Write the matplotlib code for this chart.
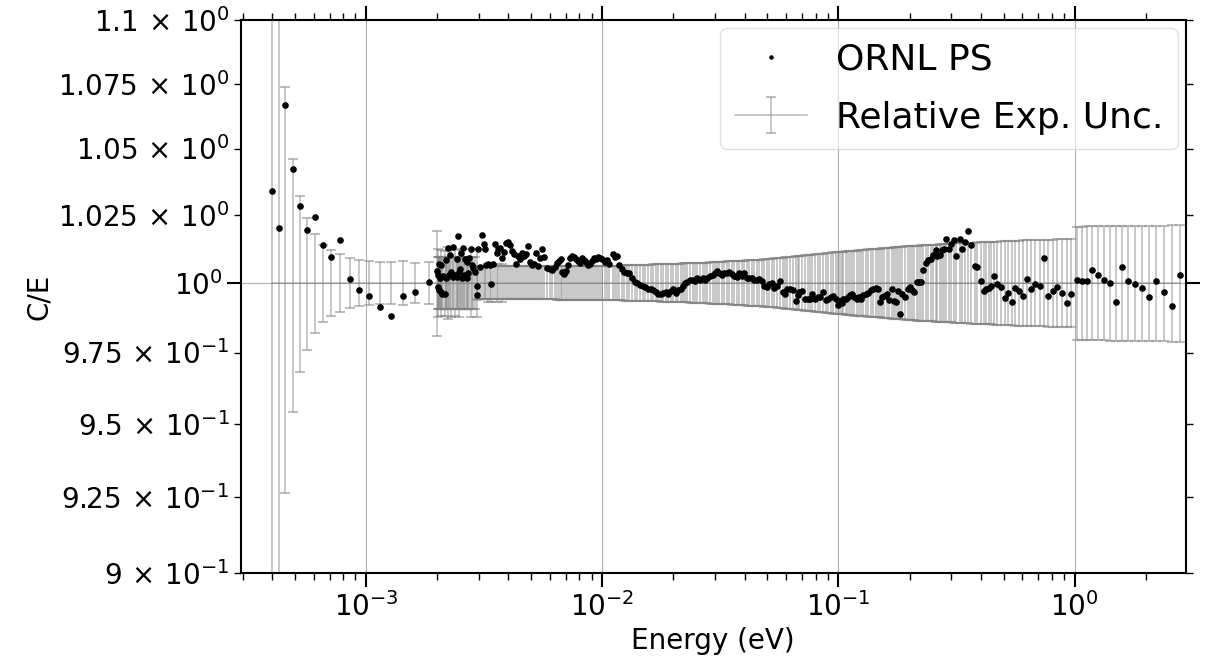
import numpy as np
import matplotlib
matplotlib.use('Agg')
import matplotlib.pyplot as plt
from matplotlib.ticker import FuncFormatter

# sparse low-energy points (eV, C/E, relative exp. uncertainty)
energy_low = [4.01e-4, 4.27e-4, 4.54e-4, 4.88e-4, 5.24e-4, 5.63e-4, 6.08e-4, 6.58e-4, 7.13e-4,
              7.76e-4, 8.50e-4, 9.34e-4, 1.03e-3, 1.143e-3, 1.272e-3, 1.43e-3, 1.613e-3, 1.842e-3]
ce_low = [1.0340, 1.0203, 1.0668, 1.0423, 1.0284, 1.0192, 1.0243, 1.0139, 1.0095,
          1.0156, 1.0013, 0.9973, 0.9954, 0.9913, 0.9881, 0.9954, 0.9968, 1.0002]
unc_low = [0.150, 0.120, 0.0736, 0.046, 0.032, 0.024, 0.018, 0.014, 0.0121,
           0.0104, 0.0092, 0.0083, 0.0081, 0.0076, 0.0075, 0.0080, 0.0073, 0.0076]

# 2 - 3 meV, overlapping sets
energy_a = [2.00e-3, 2.012e-3, 2.023e-3, 2.027e-3, 2.037e-3, 2.057e-3, 2.067e-3, 2.077e-3, 2.103e-3,
            2.124e-3, 2.160e-3, 2.170e-3, 2.181e-3, 2.202e-3, 2.230e-3, 2.245e-3, 2.267e-3, 2.289e-3,
            2.334e-3, 2.341e-3, 2.380e-3, 2.420e-3, 2.427e-3, 2.458e-3, 2.470e-3, 2.500e-3, 2.524e-3,
            2.541e-3, 2.581e-3, 2.606e-3, 2.624e-3, 2.668e-3, 2.676e-3, 2.710e-3, 2.729e-3, 2.769e-3,
            2.801e-3, 2.845e-3, 2.893e-3, 2.941e-3, 2.947e-3]
ce_a = [1.0042, 1.0030, 0.9985, 1.0070, 0.9973, 1.0016, 0.9965, 1.0064, 0.9961,
        1.0025, 0.9958, 1.0082, 1.0016, 1.0022, 1.0127, 1.0028, 1.0100, 1.0038,
        1.0022, 1.0131, 1.0030, 1.0088, 1.0021, 1.0173, 1.0038, 1.0052, 1.0110,
        1.0016, 1.0127, 1.0030, 1.0088, 1.0018, 1.0076, 1.0034, 1.0091, 1.0125,
        1.0064, 1.0054, 1.0038, 0.9989, 0.9955]
unc_a = [0.0190, 0.0095, 0.0125, 0.0095, 0.0095, 0.0095, 0.0120, 0.0095, 0.0095,
         0.0095, 0.0118, 0.0095, 0.0095, 0.0095, 0.0130, 0.0095, 0.0095, 0.0122,
         0.0095, 0.0095, 0.0120, 0.0095, 0.0095, 0.0095, 0.0125, 0.0095, 0.0095,
         0.0095, 0.0095, 0.0095, 0.0095, 0.0095, 0.0095, 0.0095, 0.0095, 0.0125,
         0.0095, 0.0095, 0.0095, 0.0125, 0.0062]

# 3 - 10 meV
energy_b = [2.988e-3, 3.037e-3, 3.106e-3, 3.149e-3, 3.189e-3, 3.229e-3, 3.293e-3, 3.357e-3, 3.381e-3,
            3.457e-3, 3.515e-3, 3.584e-3, 3.630e-3, 3.701e-3, 3.774e-3, 3.849e-3, 3.924e-3, 4.002e-3,
            4.081e-3, 4.161e-3, 4.243e-3, 4.301e-3, 4.385e-3, 4.471e-3, 4.559e-3, 4.649e-3, 4.740e-3,
            4.833e-3, 4.929e-3, 5.026e-3, 5.125e-3, 5.226e-3, 5.329e-3, 5.434e-3, 5.573e-3, 5.683e-3,
            5.834e-3, 5.989e-3, 6.143e-3, 6.306e-3, 6.431e-3, 6.558e-3, 6.686e-3, 6.772e-3, 6.905e-3,
            7.042e-3, 7.180e-3, 7.322e-3, 7.464e-3, 7.612e-3, 7.762e-3, 7.914e-3, 8.071e-3, 8.230e-3,
            8.391e-3, 8.557e-3, 8.726e-3, 8.897e-3, 9.072e-3, 9.250e-3, 9.433e-3, 9.618e-3, 9.806e-3]
ce_b = [1.0125, 1.0058, 1.0175, 1.0142, 1.0122, 1.0064, 1.0070, 1.0064, 0.9994,
        1.0067, 1.0143, 1.0110, 1.0125, 1.0129, 1.0091, 1.0113, 1.0146, 1.0151,
        1.0139, 1.0117, 1.0105, 1.0069, 1.0098, 1.0088, 1.0110, 1.0098, 1.0105,
        1.0134, 1.0076, 1.0064, 1.0070, 1.0110, 1.0062, 1.0091, 1.0125, 1.0096,
        1.0054, 1.0050, 1.0046, 1.0058, 1.0074, 1.0081, 1.0086, 1.0038, 1.0033,
        1.0042, 1.0064, 1.0091, 1.0098, 1.0093, 1.0088, 1.0079, 1.0074, 1.0091,
        1.0083, 1.0076, 1.0064, 1.0069, 1.0079, 1.0091, 1.0088, 1.0096, 1.0091]
unc_b = [0.0060, 0.0060, 0.0060, 0.0060, 0.0060, 0.0060, 0.0068, 0.0060, 0.0068,
         0.0060, 0.0060, 0.0068, 0.0060, 0.0060, 0.0068, 0.0060, 0.0060, 0.0060,
         0.0060, 0.0060, 0.0060, 0.0060, 0.0060, 0.0060, 0.0060, 0.0060, 0.0060,
         0.0060, 0.0060, 0.0060, 0.0060, 0.0060, 0.0060, 0.0060, 0.0060, 0.0060,
         0.0060, 0.0060, 0.0060, 0.0060, 0.0061, 0.0061, 0.0061, 0.0061, 0.0061,
         0.0061, 0.0061, 0.0061, 0.0061, 0.0061, 0.0061, 0.0061, 0.0061, 0.0061,
         0.0061, 0.0061, 0.0061, 0.0061, 0.0061, 0.0061, 0.0061, 0.0061, 0.0061]

# 10 - 68 meV
energy_c = [9.94e-3, 1.027e-2, 1.050e-2, 1.071e-2, 1.107e-2, 1.132e-2, 1.158e-2, 1.180e-2, 1.208e-2,
            1.235e-2, 1.268e-2, 1.301e-2, 1.336e-2, 1.375e-2, 1.406e-2, 1.444e-2, 1.483e-2, 1.521e-2,
            1.561e-2, 1.603e-2, 1.644e-2, 1.688e-2, 1.726e-2, 1.767e-2, 1.812e-2, 1.860e-2, 1.903e-2,
            1.948e-2, 1.998e-2, 2.051e-2, 2.097e-2, 2.147e-2, 2.189e-2, 2.239e-2, 2.290e-2, 2.351e-2,
            2.414e-2, 2.469e-2, 2.524e-2, 2.592e-2, 2.661e-2, 2.721e-2, 2.783e-2, 2.857e-2, 2.933e-2,
            3.000e-2, 3.067e-2, 3.127e-2, 3.201e-2, 3.273e-2, 3.360e-2, 3.447e-2, 3.528e-2, 3.608e-2,
            3.705e-2, 3.800e-2, 3.890e-2, 3.979e-2, 4.085e-2, 4.190e-2, 4.290e-2, 4.385e-2, 4.502e-2,
            4.617e-2, 4.727e-2, 4.834e-2, 4.962e-2, 5.089e-2, 5.210e-2, 5.328e-2, 5.470e-2, 5.649e-2,
            5.800e-2, 5.932e-2, 6.066e-2, 6.228e-2, 6.394e-2, 6.602e-2, 6.751e-2]
ce_c = [1.0088, 1.0076, 1.0085, 1.0070, 1.0104, 1.0094, 1.0097, 1.0064, 1.0052,
        1.0040, 1.0034, 1.0036, 1.0019, 1.0004, 0.9998, 0.9992, 0.9988, 0.9985,
        0.9979, 0.9976, 0.9973, 0.9967, 0.9961, 0.9959, 0.9964, 0.9967, 0.9961,
        0.9971, 0.9976, 0.9964, 0.9973, 0.9979, 0.9988, 0.9998, 1.0004, 1.0010,
        1.0012, 1.0007, 1.0016, 1.0012, 1.0019, 1.0010, 1.0019, 1.0024, 1.0028,
        1.0036, 1.0044, 1.0034, 1.0030, 1.0036, 1.0034, 1.0039, 1.0031, 1.0024,
        1.0022, 1.0034, 1.0024, 1.0036, 1.0019, 1.0016, 1.0019, 1.0012, 1.0010,
        1.0015, 1.0005, 0.9988, 0.9985, 0.9995, 0.9998, 0.9983, 0.9988, 1.0007,
        0.9967, 0.9961, 0.9976, 0.9979, 0.9973, 0.9935, 0.9955]
unc_c = [0.0062, 0.0062, 0.0062, 0.0062, 0.0063, 0.0063, 0.0063, 0.0063, 0.0063,
         0.0064, 0.0064, 0.0064, 0.0064, 0.0065, 0.0065, 0.0065, 0.0065, 0.0066,
         0.0066, 0.0066, 0.0067, 0.0067, 0.0067, 0.0068, 0.0068, 0.0068, 0.0069,
         0.0069, 0.0069, 0.0070, 0.0070, 0.0070, 0.0071, 0.0071, 0.0071, 0.0072,
         0.0072, 0.0072, 0.0073, 0.0073, 0.0073, 0.0074, 0.0074, 0.0075, 0.0075,
         0.0076, 0.0076, 0.0077, 0.0077, 0.0077, 0.0078, 0.0078, 0.0079, 0.0079,
         0.0080, 0.0080, 0.0081, 0.0081, 0.0082, 0.0082, 0.0083, 0.0083, 0.0084,
         0.0085, 0.0085, 0.0086, 0.0087, 0.0088, 0.0088, 0.0089, 0.0090, 0.0091,
         0.0092, 0.0093, 0.0094, 0.0095, 0.0096, 0.0097, 0.0098]

# 68 - 445 meV
energy_d = [6.800e-2, 7.022e-2, 7.209e-2, 7.401e-2, 7.570e-2, 7.741e-2, 7.947e-2, 8.159e-2,
            8.344e-2, 8.617e-2, 8.820e-2, 9.046e-2, 9.287e-2, 9.497e-2, 9.721e-2, 9.970e-2,
            0.1014, 0.1031, 0.1047, 0.1072, 0.1099, 0.1117, 0.1143, 0.1165,
            0.1193, 0.1220, 0.1244, 0.1272, 0.1302, 0.1336, 0.1371, 0.1402,
            0.1435, 0.1464, 0.1497, 0.1531, 0.1561, 0.1598, 0.1634, 0.1678,
            0.1711, 0.1744, 0.1789, 0.1824, 0.1860, 0.1910, 0.1961, 0.2005,
            0.2039, 0.2085, 0.2141, 0.2189, 0.2233, 0.2283, 0.2337, 0.2397,
            0.2460, 0.2516, 0.2576, 0.2626, 0.2686, 0.2747, 0.2801, 0.2867,
            0.2933, 0.3010, 0.3087, 0.3160, 0.3264, 0.3338, 0.3450, 0.3538,
            0.3657, 0.3777, 0.3877, 0.4004, 0.4135, 0.4233, 0.4329, 0.4445]
ce_d = [0.9967, 0.9971, 0.9940, 0.9943, 0.9940, 0.9961, 0.9940, 0.9947,
        0.9949, 0.9967, 0.9937, 0.9943, 0.9949, 0.9952, 0.9943, 0.9919,
        0.9935, 0.9927, 0.9943, 0.9940, 0.9947, 0.9955, 0.9961, 0.9949,
        0.9940, 0.9947, 0.9940, 0.9955, 0.9959, 0.9964, 0.9973, 0.9976,
        0.9983, 0.9979, 0.9931, 0.9947, 0.9952, 0.9959, 0.9937, 0.9979,
        0.9935, 0.9931, 0.9971, 0.9889, 0.9961, 0.9947, 0.9976, 0.9985,
        0.9973, 0.9967, 1.0004, 1.0004, 1.0004, 1.0048, 1.0073, 1.0085,
        1.0088, 1.0100, 1.0121, 1.0097, 1.0100, 1.0121, 1.0125, 1.0161,
        1.0125, 1.0143, 1.0155, 1.0097, 1.0161, 1.0125, 1.0149, 1.0189,
        1.0140, 1.0061, 1.0058, 1.0007, 0.9971, 0.9978, 0.9983, 0.9988]
unc_d = [0.0098, 0.0099, 0.0100, 0.0101, 0.0102, 0.0103, 0.0104, 0.0105,
         0.0106, 0.0107, 0.0108, 0.0109, 0.0110, 0.0111, 0.0112, 0.0113,
         0.0113, 0.0114, 0.0114, 0.0115, 0.0116, 0.0116, 0.0117, 0.0118,
         0.0118, 0.0119, 0.0120, 0.0120, 0.0121, 0.0122, 0.0123, 0.0123,
         0.0124, 0.0125, 0.0125, 0.0126, 0.0127, 0.0127, 0.0128, 0.0129,
         0.0130, 0.0130, 0.0131, 0.0132, 0.0132, 0.0133, 0.0134, 0.0134,
         0.0135, 0.0135, 0.0136, 0.0136, 0.0137, 0.0137, 0.0138, 0.0138,
         0.0139, 0.0139, 0.0140, 0.0140, 0.0141, 0.0141, 0.0142, 0.0142,
         0.0143, 0.0143, 0.0144, 0.0144, 0.0145, 0.0145, 0.0146, 0.0146,
         0.0147, 0.0147, 0.0148, 0.0148, 0.0149, 0.0149, 0.0150, 0.0150]

# 0.45 - 1 eV
energy_e = [0.4559, 0.4713, 0.4868, 0.5061, 0.5226, 0.5434, 0.5617, 0.5840, 0.6072, 0.6313,
            0.6564, 0.6825, 0.7116, 0.7421, 0.7715, 0.8077, 0.8455, 0.8845, 0.9258, 0.9692]
ce_e = [1.0024, 0.9994, 0.9984, 0.9944, 0.9964, 0.9932, 0.9981, 0.9970, 0.9954, 1.0015,
        0.9978, 0.9996, 0.9987, 1.0090, 0.9953, 0.9972, 0.9984, 0.9962, 0.9926, 0.9960]
unc_e = [0.0151, 0.0151, 0.0152, 0.0152, 0.0153, 0.0153, 0.0154, 0.0154, 0.0155, 0.0155,
         0.0156, 0.0156, 0.0157, 0.0157, 0.0158, 0.0158, 0.0159, 0.0159, 0.0160, 0.0160]

# above 1 eV
energy_f = [1.021, 1.075, 1.133, 1.190, 1.261, 1.328, 1.408, 1.492, 1.582,
            1.682, 1.801, 1.929, 2.059, 2.219, 2.390, 2.583, 2.793]
ce_f = [1.0011, 1.0005, 1.0007, 1.0045, 1.0029, 1.0012, 1.0001, 0.9929, 1.0057,
        1.0005, 0.9996, 0.9981, 0.9950, 1.0005, 0.9965, 0.9918, 1.0029]
unc_f = [0.0206, 0.0206, 0.0207, 0.0207, 0.0207, 0.0207, 0.0208, 0.0208, 0.0208,
         0.0208, 0.0209, 0.0209, 0.0209, 0.0210, 0.0210, 0.0211, 0.0212]

y_minor_ticks = [0.9, 0.925, 0.95, 0.975, 1.025, 1.05, 1.075, 1.1]

energy = np.concatenate([energy_low, energy_a, energy_b, energy_c, energy_d, energy_e, energy_f])
ce = np.concatenate([ce_low, ce_a, ce_b, ce_c, ce_d, ce_e, ce_f])
unc = np.concatenate([unc_low, unc_a, unc_b, unc_c, unc_d, unc_e, unc_f])


def sci_label(v, pos):
    # "a x 10^b" with a little room around the times sign
    exp = int(np.floor(np.log10(v) + 1e-9))
    coeff = v / 10.0 ** exp
    if abs(coeff - 1) < 1e-9:
        return r'$\mathdefault{10^{%d}}$' % exp
    return r'$\mathdefault{%g\,\times\,10^{%d}}$' % (coeff, exp)


fig, ax = plt.subplots(figsize=(12.11, 6.6), dpi=100)
fig.subplots_adjust(left=0.199, right=0.979, bottom=0.132, top=0.969)

ax.plot(energy, ce, 'k.', ms=7.5, zorder=3, label='ORNL PS')
ax.errorbar(energy, np.ones_like(energy), yerr=unc, color='grey', alpha=0.5,
            lw=1.2, elinewidth=1.2, capsize=3.5, capthick=1.5, label='Relative Exp. Unc.')

ax.set_xscale('log')
ax.set_yscale('log')
ax.set_yticks(y_minor_ticks, minor=True)
ax.yaxis.set_major_formatter(FuncFormatter(sci_label))
ax.yaxis.set_minor_formatter(FuncFormatter(sci_label))
ax.set_xlim(2.95e-4, 2.95)
ax.set_ylim(0.9, 1.1)

ax.grid(which='major')
ax.tick_params(which='both', top=True, right=True, labelsize=20)
ax.tick_params(which='major', length=10, width=1.5)
ax.tick_params(which='minor', length=5, width=1)
for sp in ax.spines.values():
    sp.set_linewidth(1.5)

ax.set_xlabel('Energy (eV)', fontsize=20)
ax.set_ylabel('C/E', fontsize=20)
ax.legend(loc='upper right', fontsize=26, markerscale=0.6, framealpha=0.6,
          borderaxespad=0.22, labelspacing=0.67)

fig.savefig('out.png', dpi=100)
